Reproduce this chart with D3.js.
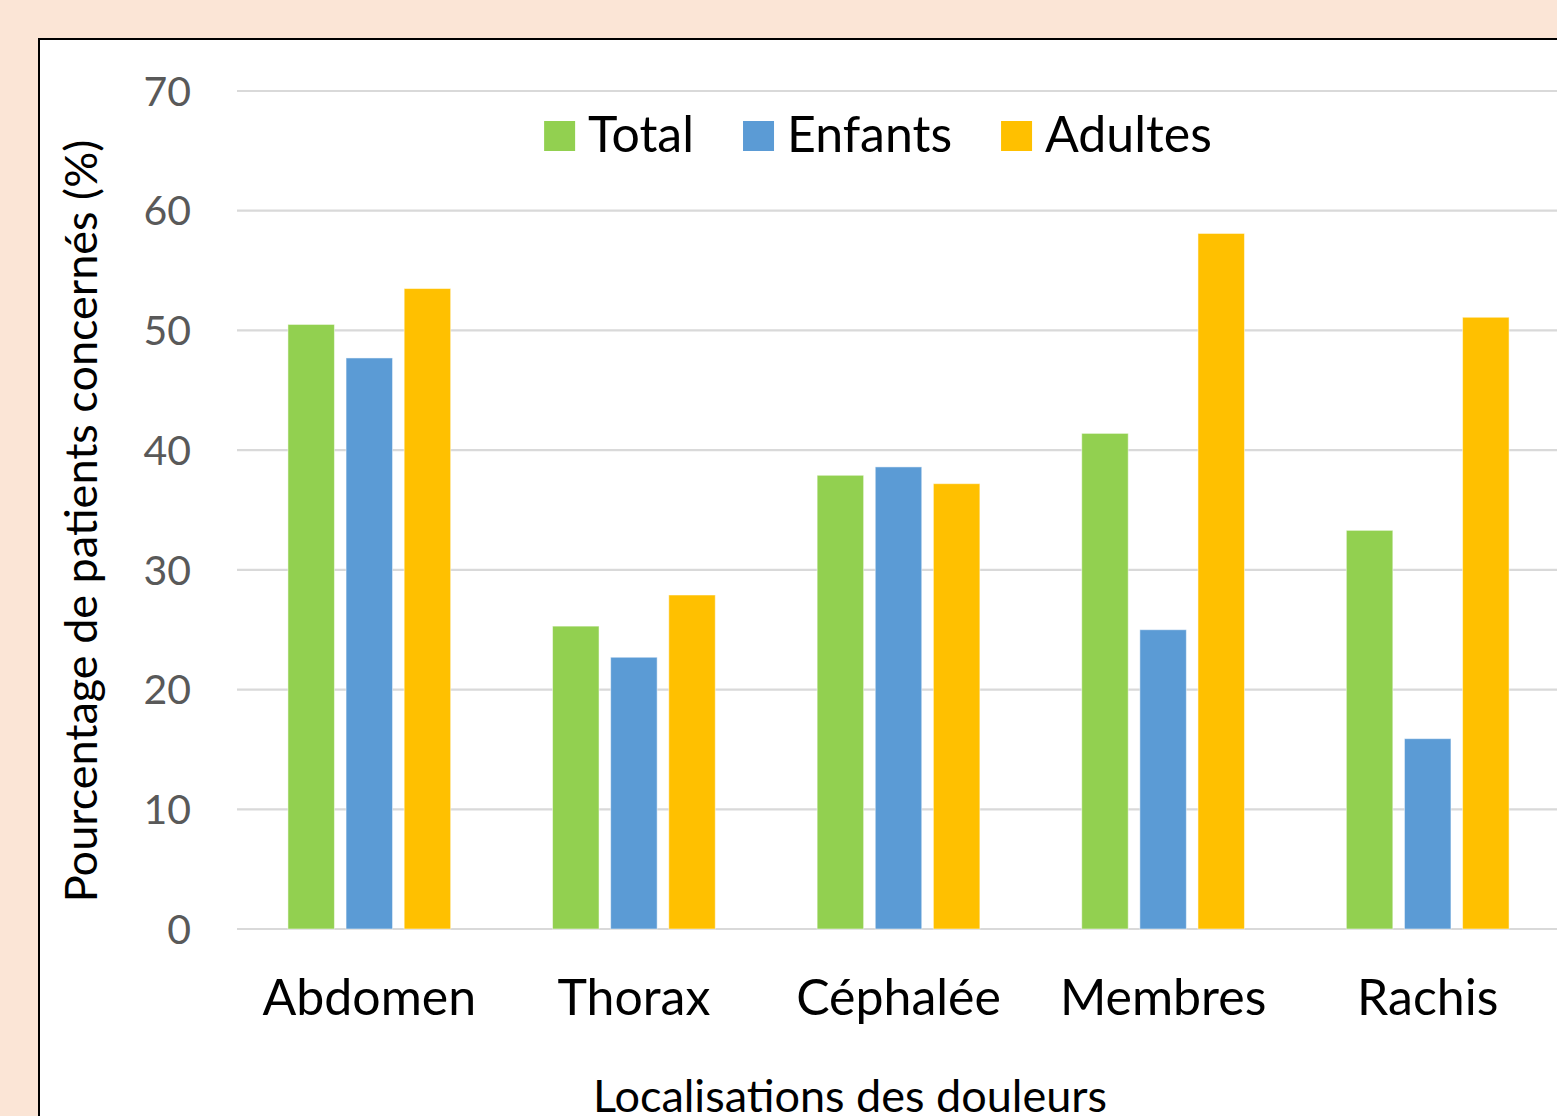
<!DOCTYPE html>
<html>
<head>
<meta charset="utf-8">
<script src="https://cdn.jsdelivr.net/npm/d3@7"></script>
<style>
  html, body { margin: 0; padding: 0; background: #FBE5D6; overflow: hidden; }
  svg { display: block; font-family: Lato, "Open Sans", sans-serif; }
</style>
</head>
<body>
<div id="chart"></div>
<script>
const categories = ['Abdomen', 'Thorax', 'Céphalée', 'Membres', 'Rachis'];
const seriesNames = ['Total', 'Enfants', 'Adultes'];
const total = [50.5, 25.3, 37.9, 41.4, 33.3];
const enfants = [47.7, 22.7, 38.6, 25.0, 15.9];
const adultes = [53.5, 27.9, 37.2, 58.1, 51.1];
const yTicks = [0, 10, 20, 30, 40, 50, 60, 70];
const colors = ['#92D050', '#5B9BD5', '#FFC000'];

const W = 1557, H = 1116;
const plot = { left: 237, right: 1560, top: 91, bottom: 929 };

const rows = categories.map((c, i) => ({ cat: c, vals: [total[i], enfants[i], adultes[i]] }));

const svg = d3.select('#chart')
  .append('svg')
  .attr('width', W)
  .attr('height', H);

svg.append('rect')
  .attr('width', W).attr('height', H)
  .attr('fill', '#FBE5D6');

// chart area
svg.append('rect')
  .attr('x', 39).attr('y', 39)
  .attr('width', W).attr('height', H)
  .attr('fill', '#fff')
  .attr('stroke', '#000')
  .attr('stroke-width', 2);

const x0 = d3.scaleBand()
  .domain(categories)
  .range([plot.left, plot.right])
  .paddingInner(0.385)
  .paddingOuter(0.1925);

const x1 = d3.scaleBand()
  .domain(seriesNames)
  .range([0, x0.bandwidth()])
  .paddingInner(0.2);

const y = d3.scaleLinear().domain([0, 70]).range([plot.bottom, plot.top]);

// gridlines
svg.append('g')
  .selectAll('line')
  .data(yTicks)
  .join('line')
  .attr('x1', plot.left)
  .attr('x2', W)
  .attr('y1', d => y(d))
  .attr('y2', d => y(d))
  .attr('stroke', '#D9D9D9')
  .attr('stroke-width', 2.2);

// y tick labels
svg.append('g')
  .selectAll('text')
  .data(yTicks)
  .join('text')
  .attr('x', 191)
  .attr('y', d => y(d))
  .attr('dy', '0.36em')
  .attr('text-anchor', 'end')
  .attr('fill', '#595959')
  .style('font-size', '41px')
  .text(d => d);

// bars
const groups = svg.append('g')
  .selectAll('g')
  .data(rows)
  .join('g')
  .attr('transform', d => `translate(${x0(d.cat)},0)`);

groups.selectAll('rect')
  .data(d => d.vals.map((v, j) => ({ name: seriesNames[j], v: v, j: j })))
  .join('rect')
  .attr('x', d => x1(d.name))
  .attr('y', d => y(d.v))
  .attr('width', x1.bandwidth())
  .attr('height', d => y(0) - y(d.v))
  .attr('fill', d => colors[d.j])
  .attr('stroke', '#fff')
  .attr('stroke-opacity', 0.5)
  .attr('stroke-width', 1);

// category labels
svg.append('g')
  .selectAll('text')
  .data(categories)
  .join('text')
  .attr('x', d => x0(d) + x0.bandwidth() / 2)
  .attr('y', 1015)
  .attr('text-anchor', 'middle')
  .attr('fill', '#000')
  .style('font-size', '50px')
  .text(d => d);

// axis titles
svg.append('text')
  .attr('x', 850)
  .attr('y', 1112)
  .attr('text-anchor', 'middle')
  .style('font-size', '45px')
  .text('Localisations des douleurs');

svg.append('text')
  .attr('transform', 'translate(97, 521) rotate(-90)')
  .attr('text-anchor', 'middle')
  .style('font-size', '45px')
  .text('Pourcentage de patients concernés (%)');

// legend
const legend = svg.append('g');
let lx = 0;
seriesNames.forEach((s, j) => {
  const item = legend.append('g').attr('transform', `translate(${lx},0)`);
  item.append('rect')
    .attr('x', 0).attr('y', 121)
    .attr('width', 31).attr('height', 30)
    .attr('fill', colors[j]);
  const t = item.append('text')
    .attr('x', 44).attr('y', 152)
    .style('font-size', '50px')
    .text(s);
  lx += 44 + t.node().getComputedTextLength() + 49;
});
const lw = lx - 49;
legend.attr('transform', `translate(${878 - lw / 2},0)`);
</script>
</body>
</html>
